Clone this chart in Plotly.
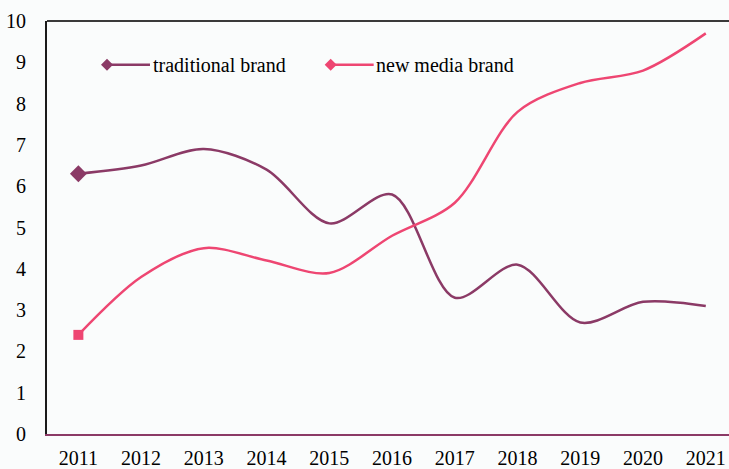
import plotly.graph_objects as go

years = [2011, 2012, 2013, 2014, 2015, 2016, 2017, 2018, 2019, 2020, 2021]
traditional = [6.3, 6.5, 6.9, 6.4, 5.1, 5.8, 3.3, 4.1, 2.7, 3.2, 3.1]
new_media = [2.4, 3.8, 4.5, 4.2, 3.9, 4.8, 5.6, 7.8, 8.5, 8.8, 9.7]
series_names = ["traditional brand", "new media brand"]

TRAD_COLOR = "#8B3A66"
NEW_COLOR = "#EE4672"
FONT = "Liberation Serif, Times New Roman, serif"
FS = 20

fig = go.Figure()

# smoothed series lines
for vals, color in [(traditional, TRAD_COLOR), (new_media, NEW_COLOR)]:
    fig.add_trace(go.Scatter(
        x=years, y=vals, mode="lines",
        line=dict(color=color, width=2.5, shape="spline", smoothing=0.9),
        showlegend=False, hoverinfo="x+y",
    ))

# markers on the first year of each series
fig.add_trace(go.Scatter(
    x=years[:1], y=traditional[:1], mode="markers",
    marker=dict(symbol="diamond", size=13, color=TRAD_COLOR),
    showlegend=False,
))
fig.add_trace(go.Scatter(
    x=years[:1], y=new_media[:1], mode="markers",
    marker=dict(symbol="square", size=10, color=NEW_COLOR),
    showlegend=False,
))

# hand-drawn legend: diamond + line + label, inside the plot area
legend_items = [
    (series_names[0], TRAD_COLOR, 0.088),
    (series_names[1], NEW_COLOR, 0.416),
]
shapes = []
annotations = []
for name, color, xp in legend_items:
    yp = 0.894
    shapes.append(dict(
        type="line", xref="paper", yref="paper",
        x0=xp, x1=xp + 0.063, y0=yp, y1=yp,
        line=dict(color=color, width=2.5),
    ))
    shapes.append(dict(
        type="path", xref="paper", yref="paper",
        xsizemode="pixel", ysizemode="pixel",
        xanchor=xp, yanchor=yp,
        path="M 0 6 L 6 0 L 0 -6 L -6 0 Z",
        fillcolor=color, line=dict(color=color, width=0),
    ))
    annotations.append(dict(
        xref="paper", yref="paper", x=xp + 0.064, y=yp,
        xanchor="left", yanchor="middle", showarrow=False,
        text=name, font=dict(family=FONT, size=FS, color="#000000"),
    ))

# top border of the plot area
shapes.append(dict(
    type="line", xref="paper", yref="paper",
    x0=0, x1=1, y0=1, y1=1,
    line=dict(color="#3a3a3a", width=2),
))

fig.update_layout(
    width=729, height=469,
    margin=dict(l=47, r=0, t=21, b=35),
    paper_bgcolor="#FAFCFC",
    plot_bgcolor="#FAFCFC",
    font=dict(family=FONT, size=FS, color="#000000"),
    shapes=shapes,
    annotations=annotations,
    showlegend=False,
    xaxis=dict(
        range=[2010.5, 2021.37],
        tickmode="array", tickvals=years, ticktext=[str(y) for y in years],
        showgrid=False, zeroline=False, automargin=False,
        showline=True, linecolor=TRAD_COLOR, linewidth=2,
        ticks="", ticklabelstandoff=5,
        tickfont=dict(family=FONT, size=FS, color="#000000"),
    ),
    yaxis=dict(
        range=[0, 10], dtick=1,
        showgrid=False, zeroline=False, automargin=False,
        showline=True, linecolor="#1a1a1a", linewidth=2,
        ticks="", ticklabelstandoff=15,
        tickfont=dict(family=FONT, size=FS, color="#000000"),
    ),
)

fig.write_html("out.html")
